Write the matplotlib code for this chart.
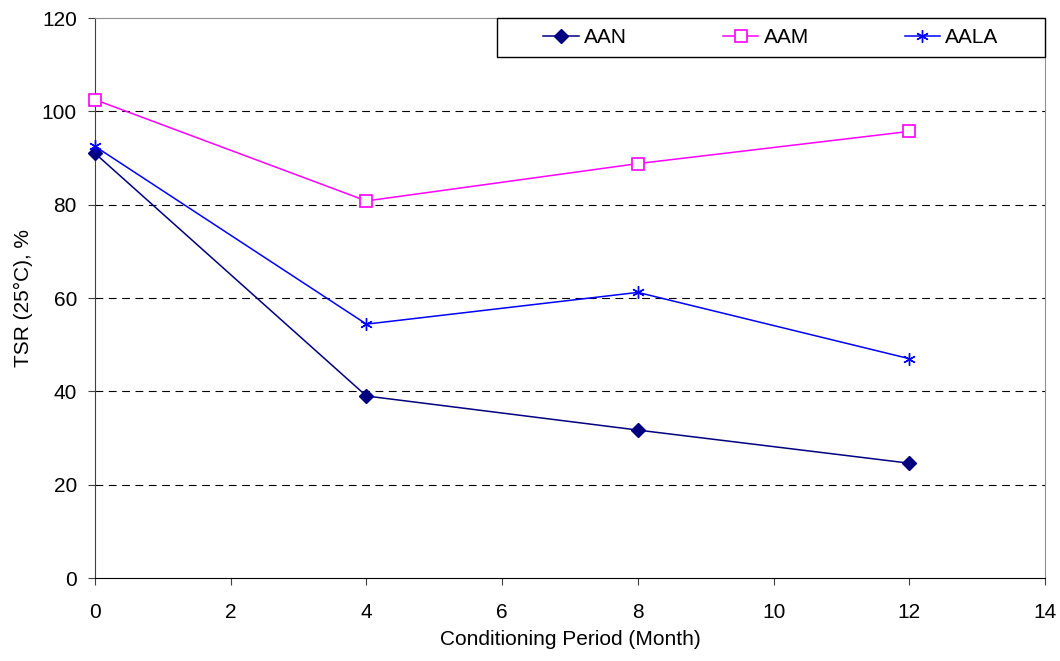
import matplotlib
matplotlib.use("Agg")
import matplotlib.pyplot as plt
from matplotlib.patches import Rectangle

plt.rcParams["font.family"] = ["Liberation Sans", "DejaVu Sans"]

months = [0, 4, 8, 12]
aan = [91.0, 39.0, 31.7, 24.6]
aam = [102.5, 80.8, 88.8, 95.7]
aala = [92.5, 54.4, 61.2, 47.0]

W, H = 1060, 661
fig = plt.figure(figsize=(W / 100, H / 100), dpi=100)
ax = fig.add_axes([95 / W, 83 / H, 950 / W, 560 / H])

ax.plot(months, aan, color="#000080", lw=1.1, marker="D", ms=7,
        mfc="#000080", mec="#000080", label="AAN", zorder=3, clip_on=False)
ax.plot(months, aam, color="#FF00FF", lw=1.1, marker="s", ms=8,
        mfc="white", mec="#FF00FF", mew=1.2, label="AAM", zorder=3,
        clip_on=False)
ax.plot(months, aala, color="#0000FF", lw=1.1, marker=(6, 2, 0), ms=9,
        mec="#0000FF", mew=1.0, label="AALA", zorder=3, clip_on=False)

ax.set_xlim(0, 14)
ax.set_ylim(0, 120)
ax.set_xticks(range(0, 15, 2))
ax.set_yticks(range(0, 121, 20))
for y in range(20, 101, 20):
    ax.axhline(y, color="black", lw=0.8, ls=(0, (7, 5)), zorder=1)

for s in ("top", "right"):
    ax.spines[s].set_color("#909090")
ax.spines["left"].set_color("#404040")
ax.spines["bottom"].set_color("black")
ax.tick_params(direction="out", length=5, color="#404040", labelsize=15)
ax.tick_params(axis="x", pad=13)
ax.tick_params(axis="y", pad=8)

ax.set_xlabel("Conditioning Period (Month)", fontsize=15)
ax.set_ylabel("TSR (25°C), %", fontsize=15)
ax.xaxis.set_label_coords(0.5, -0.093)
ax.yaxis.set_label_coords(-0.065, 0.5)

# legend box
box_x0, box_y0, box_x1, box_y1 = 497, 18, 1045, 57
fig.patches.append(Rectangle((box_x0 / W, 1 - box_y1 / H),
                             (box_x1 - box_x0) / W, (box_y1 - box_y0) / H,
                             transform=fig.transFigure, fill=True,
                             facecolor="white", edgecolor="black", lw=1.0,
                             zorder=5))
leg = fig.legend(loc="center",
                 bbox_to_anchor=((box_x0 + box_x1) / 2 / W,
                                 1 - (box_y0 + box_y1) / 2 / H),
                 ncol=3, fontsize=15, frameon=False, columnspacing=4.6,
                 handlelength=1.7, handletextpad=0.25)
leg.set_zorder(6)

fig.savefig("out.png", dpi=100)
